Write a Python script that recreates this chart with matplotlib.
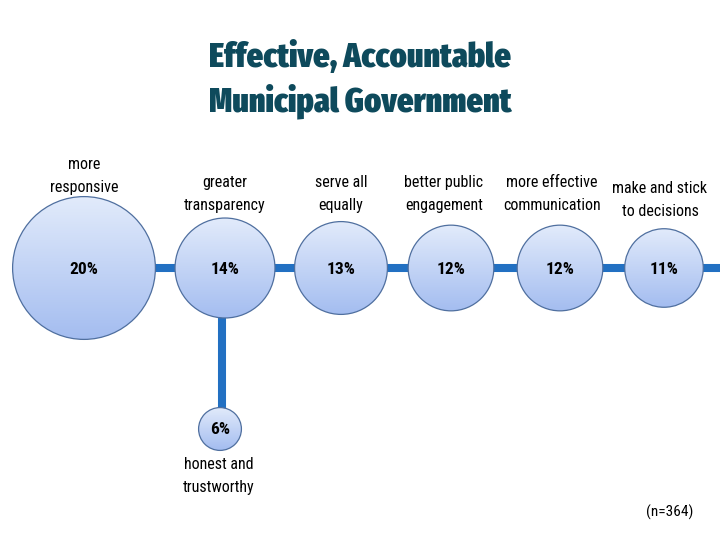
import numpy as np
import matplotlib.pyplot as plt
from matplotlib.patches import Circle
from matplotlib.colors import LinearSegmentedColormap

labels = ['more\nresponsive', 'greater\ntransparency', 'serve all\nequally',
          'better public\nengagement', 'more effective\ncommunication',
          'make and stick\nto decisions']
values = [20, 14, 13, 12, 12, 11]
branch_label = 'honest and\ntrustworthy'
branch_value = 6
title = 'Effective, Accountable\nMunicipal Government'
note = '(n=364)'

plt.rcParams['font.family'] = ['Roboto Condensed', 'DejaVu Sans']

fig = plt.figure(figsize=(7.2, 5.4), dpi=100)
ax = fig.add_axes([0, 0, 1, 1])
ax.set_xlim(0, 720)
ax.set_ylim(540, 0)
ax.set_aspect('equal')
ax.axis('off')

k = 3.57          # px radius per percent
xs = [84, 225, 341, 451, 560, 664]
yline = 268
line_col = '#2270c2'

grad = np.linspace(0, 1, 256).reshape(-1, 1)
cmap = LinearSegmentedColormap.from_list('b', ['#e2ebfb', '#a4bdf0'])

def bubble(x, y, v):
    r = v * k
    im = ax.imshow(grad, cmap=cmap, extent=(x - r, x + r, y + r, y - r),
                   zorder=3, aspect='auto')
    c = Circle((x, y), r, facecolor='none', edgecolor='#4f6f9f', lw=0.9, zorder=4)
    ax.add_patch(c)
    im.set_clip_path(c)
    ax.text(x, y + 1, '%d%%' % v, ha='center', va='center', fontsize=12.5,
            fontweight='bold', zorder=5)
    return r

# connecting lines
ax.plot([xs[0], 720], [yline, yline], color=line_col, lw=5.8, zorder=1,
        solid_capstyle='butt')
by = 429
ax.plot([222, 222], [yline, by], color=line_col, lw=5.8, zorder=1,
        solid_capstyle='butt')

lab_y = [176, 194, 194, 194, 194, 200]
lab_x = [84, 225, 341, 444, 552, 660]
for x, v, lab, lx, ly in zip(xs, values, labels, lab_x, lab_y):
    bubble(x, yline, v)
    ax.text(lx, ly, lab, ha='center', va='center', fontsize=11.5,
            linespacing=1.6)

bubble(220, by, branch_value)
ax.text(219, 476, branch_label, ha='center', va='center', fontsize=11.5,
        linespacing=1.6)

ax.text(360, 80, title, ha='center', va='center', fontsize=25,
        fontweight='black', color='#0e4a5c', linespacing=1.3,
        family=['Fira Sans Extra Condensed', 'DejaVu Sans'])
ax.text(670, 512, note, ha='center', va='center', fontsize=11)

fig.savefig('out.png', dpi=100)
